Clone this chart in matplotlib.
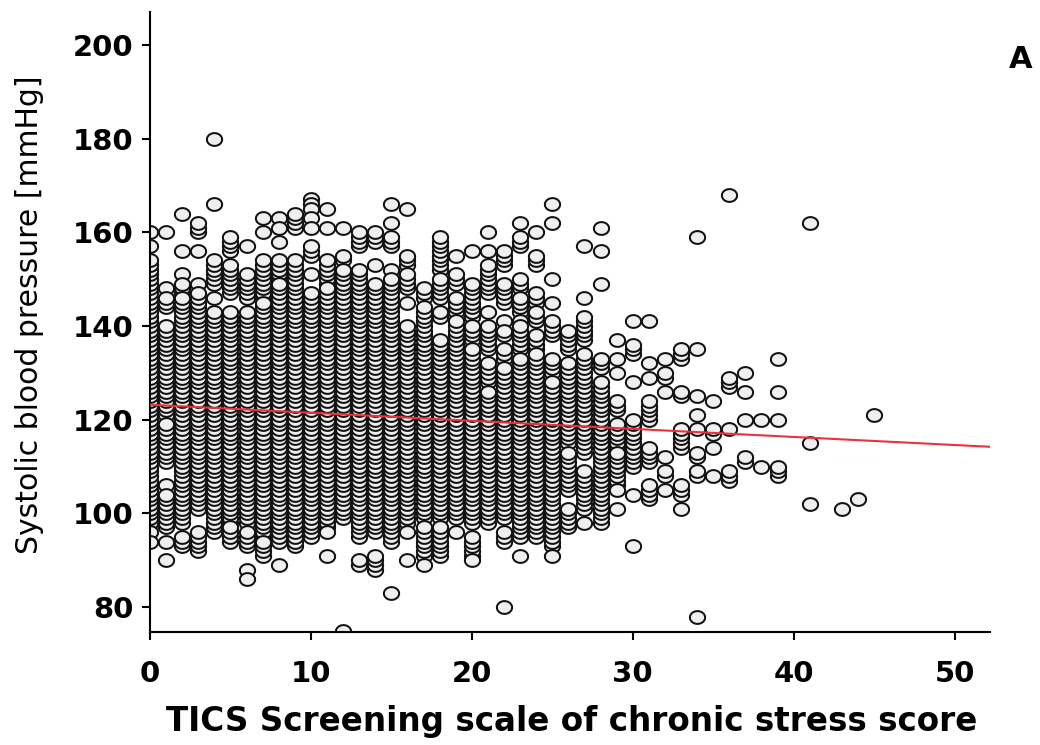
import numpy as np
import matplotlib
matplotlib.use('Agg')
import matplotlib.pyplot as plt
from matplotlib.path import Path

# TICS score columns and the systolic values.
# every (lo, hi) pair is a run of stacked circles at each whole mmHg, single points are (v, v)
scores = list(range(0, 40)) + [41, 43, 44, 45]
bp_runs = [
    [(98, 154), (157, 157), (160, 160), (96, 96), (94, 94)],
    [(160, 160), (148, 148), (144, 146), (121, 140), (111, 119), (106, 106), (97, 104), (94, 94), (90, 90)],
    [(164, 164), (156, 156), (151, 151), (147, 149), (98, 146), (93, 95)],
    [(160, 162), (156, 156), (149, 149), (101, 147), (92, 96)],
    [(180, 180), (166, 166), (149, 154), (146, 146), (96, 143)],
    [(156, 159), (147, 153), (98, 143), (94, 97)],
    [(157, 157), (146, 151), (98, 143), (93, 96), (88, 88), (86, 86)],
    [(163, 163), (160, 160), (146, 154), (95, 145), (91, 94)],
    [(163, 163), (161, 161), (158, 158), (150, 154), (94, 149), (89, 89)],
    [(161, 164), (93, 154)],
    [(167, 167), (166, 166), (165, 165), (163, 163), (161, 161), (155, 157), (151, 151), (95, 147)],
    [(165, 165), (161, 161), (149, 154), (97, 148), (96, 96), (91, 91)],
    [(161, 161), (154, 155), (99, 152), (75, 75)],
    [(157, 160), (95, 152), (89, 90)],
    [(158, 160), (153, 153), (96, 149), (88, 91)],
    [(166, 166), (162, 162), (157, 159), (152, 152), (94, 150), (83, 83)],
    [(165, 165), (153, 155), (148, 151), (145, 145), (98, 140), (96, 96), (90, 90)],
    [(146, 148), (99, 144), (91, 97), (89, 89)],
    [(152, 159), (146, 150), (142, 143), (99, 137), (91, 97)],
    [(155, 155), (149, 151), (143, 146), (99, 141), (96, 96)],
    [(156, 156), (142, 149), (137, 140), (98, 135), (91, 95), (90, 90)],
    [(160, 160), (156, 156), (147, 153), (143, 143), (135, 140), (128, 132), (98, 126)],
    [(153, 156), (145, 149), (141, 141), (138, 139), (133, 135), (99, 131), (94, 96), (80, 80)],
    [(162, 162), (157, 159), (148, 150), (143, 146), (141, 141), (135, 140), (95, 133), (91, 91)],
    [(160, 160), (153, 155), (145, 147), (141, 143), (135, 138), (95, 134)],
    [(166, 166), (162, 162), (150, 150), (145, 145), (138, 141), (130, 133), (93, 128), (91, 91)],
    [(135, 139), (115, 132), (105, 113), (97, 101)],
    [(157, 157), (146, 146), (137, 142), (113, 134), (101, 109), (98, 98)],
    [(161, 161), (156, 156), (149, 149), (131, 133), (98, 128)],
    [(137, 137), (133, 133), (130, 130), (122, 124), (114, 119), (106, 113), (105, 105), (101, 101)],
    [(141, 141), (134, 136), (128, 128), (110, 120), (104, 104), (93, 93)],
    [(141, 141), (132, 132), (129, 129), (120, 124), (111, 114), (103, 106)],
    [(133, 133), (129, 130), (126, 126), (112, 112), (108, 109), (105, 105)],
    [(133, 135), (125, 126), (114, 118), (104, 106), (101, 101)],
    [(159, 159), (135, 135), (125, 125), (121, 121), (118, 118), (112, 113), (108, 109), (78, 78)],
    [(124, 124), (117, 118), (114, 114), (108, 108)],
    [(168, 168), (127, 129), (118, 118), (107, 109)],
    [(130, 130), (126, 126), (120, 120), (111, 112)],
    [(120, 120), (110, 110)],
    [(133, 133), (126, 126), (120, 120), (108, 110)],
    [(162, 162), (115, 115), (102, 102)],
    [(101, 101)],
    [(103, 103)],
    [(121, 121)],
]

# regression line
fit_intercept = 123.2
fit_slope = -0.172

xticks = [0, 10, 20, 30, 40, 50]
yticks = [80, 100, 120, 140, 160, 180, 200]

# expanding runs into points
xs, ys = [], []
for s, runs in zip(scores, bp_runs):
    for lo, hi in runs:
        for v in range(lo, hi + 1):
            xs.append(s)
            ys.append(v)

# a slightly flattened ring as marker, like the original
t = np.linspace(0, 2 * np.pi, 60)
ring = Path(np.column_stack([np.cos(t), 0.84 * np.sin(t)]), closed=True)

fig = plt.figure(figsize=(10.4, 7.45), dpi=100)
ax = fig.add_axes([0.1442, 0.1517, 0.8077, 0.8322])

ax.scatter(xs, ys, marker=ring, s=120, facecolor='#efefef', edgecolor='#111111', linewidths=1.45, zorder=2)

xl = np.array([0, 52.2])
ax.plot(xl, fit_intercept + fit_slope * xl, color='#e8323c', lw=1.5, zorder=3)

ax.set_xlim(0, 52.2)
ax.set_ylim(74.7, 207)
ax.set_xticks(xticks)
ax.set_yticks(yticks)

for side in ['top', 'right']:
    ax.spines[side].set_visible(False)
for side in ['left', 'bottom']:
    ax.spines[side].set_linewidth(1.5)

ax.tick_params(axis='both', direction='out', length=6, width=1.5, labelsize=21)
ax.tick_params(axis='x', pad=14)
ax.tick_params(axis='y', pad=6)
for lab in ax.get_xticklabels() + ax.get_yticklabels():
    lab.set_fontweight('bold')

fig.text(572 / 1040, 1 - 722 / 745, 'TICS Screening scale of chronic stress score',
         ha='center', va='center', fontsize=23.5, fontweight='bold')
fig.text(30 / 1040, 1 - 315 / 745, 'Systolic blood pressure [mmHg]',
         ha='center', va='center', rotation=90, fontsize=21.5)
fig.text(1021 / 1040, 1 - 60 / 745, 'A', ha='center', va='center', fontsize=22, fontweight='bold')

plt.savefig('out.png', dpi=100)
